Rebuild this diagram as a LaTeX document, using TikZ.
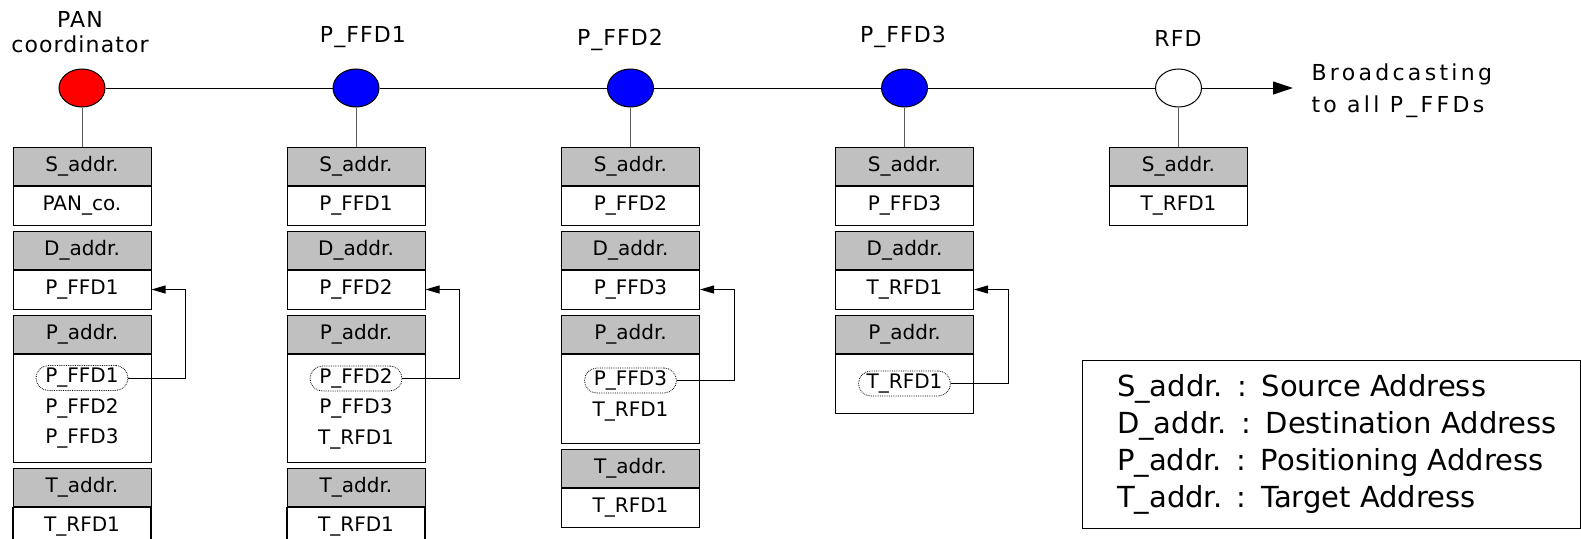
\documentclass[tikz,border=0pt]{standalone}
\usepackage{fontspec}
\setmainfont{DejaVu Sans}
\newfontfamily\lblfont[LetterSpace=5]{DejaVu Sans}
\newfontfamily\bcastfont[LetterSpace=15]{DejaVu Sans}
\usetikzlibrary{arrows.meta, positioning, shapes.geometric}
\definecolor{hdrgray}{RGB}{192,192,192}
\definecolor{stemgray}{RGB}{90,90,90}

\begin{document}
\begin{tikzpicture}[x=1pt, y=-1pt, line width=1pt,
        dev/.style={ellipse, draw=black, minimum width=46pt, minimum height=38pt, inner sep=0pt},
        hdr/.style={draw=black, fill=hdrgray, minimum width=138pt, minimum height=38pt, inner sep=0pt, font=\fontsize{20}{24}\selectfont},
        val/.style={draw=black, fill=white, minimum width=138pt, minimum height=39pt, inner sep=0pt, font=\fontsize{20}{24}\selectfont},
        tval/.style={val, line width=1.6pt},
        entry/.style={minimum width=92pt, minimum height=25pt, inner sep=0pt, font=\fontsize{20}{24}\selectfont},
        picked/.style={entry, draw=black, densely dotted, line width=0.8pt, rounded corners=12.5pt},
        toplbl/.style={align=center, inner sep=0pt, font=\lblfont\fontsize{22}{24.5}\selectfont},
        link/.style={-{Triangle[length=14pt,width=8pt]}, black},
        stem/.style={stemgray}]
        \useasboundingbox (0,0) rectangle (1581,538);
        \clip (0,0) rectangle (1581,538);

        % Devices
        \node[dev, fill=red] (pan) at (82,88) {};
        \node[dev, fill=blue] (ffd1) at (356,88) {};
        \node[dev, fill=blue] (ffd2) at (630.5,88) {};
        \node[dev, fill=blue] (ffd3) at (904.5,88) {};
        \node[dev, fill=white] (rfd) at (1178.5,88) {};

        \node[toplbl] (panlbl) at (80,32) {PAN\\coordinator};
        \node[toplbl] (ffd1lbl) at (363,37) {P\_FFD1};
        \node[toplbl] (ffd2lbl) at (620,40) {P\_FFD2};
        \node[toplbl] (ffd3lbl) at (903,37) {P\_FFD3};
        \node[toplbl] (rfdlbl) at (1178,38) {RFD};
        \node[align=left, inner sep=0pt, anchor=west, font=\bcastfont\fontsize{22}{32}\selectfont] (bcast) at (1311,91) {Broadcasting\\to all P\_FFDs};

        \draw (pan) -- (ffd1) -- (ffd2) -- (ffd3) -- (rfd);
        \draw[-{Triangle[length=20pt,width=13pt]}, shorten >=18pt] (rfd) -- (rfd -| bcast.west);

        % PAN coordinator frame
        \node[hdr] (pan_sh) at (82,166) {S\_addr.};
        \node[val, below=0pt of pan_sh] (pan_sv) {PAN\_co.};
        \node[hdr, below=5pt of pan_sv] (pan_dh) {D\_addr.};
        \node[val, below=0pt of pan_dh] (pan_dv) {P\_FFD1};
        \node[hdr, below=5pt of pan_dv] (pan_ph) {P\_addr.};
        \node[val, below=0pt of pan_ph, minimum height=108pt] (pan_pv) {};
        \node[picked] (pan_p1) at ([yshift=-24.5pt]pan_pv.north) {P\_FFD1};
        \node[entry, below=4.5pt of pan_p1] (pan_p2) {P\_FFD2};
        \node[entry, below=4.5pt of pan_p2] (pan_p3) {P\_FFD3};
        \node[hdr, below=5pt of pan_pv] (pan_th) {T\_addr.};
        \node[tval, below=0pt of pan_th] (pan_tv) {T\_RFD1};
        \draw[stem] (pan) -- (pan_sh);
        \coordinate (pan_bend) at ([xshift=34pt]pan_pv.east);
        \draw[link] (pan_p1.east) -- (pan_bend |- pan_p1.east) |- (pan_dv.east);

        % P_FFD1 frame
        \node[hdr] (ffd1_sh) at (356,166) {S\_addr.};
        \node[val, below=0pt of ffd1_sh] (ffd1_sv) {P\_FFD1};
        \node[hdr, below=5pt of ffd1_sv] (ffd1_dh) {D\_addr.};
        \node[val, below=0pt of ffd1_dh] (ffd1_dv) {P\_FFD2};
        \node[hdr, below=5pt of ffd1_dv] (ffd1_ph) {P\_addr.};
        \node[val, below=0pt of ffd1_ph, minimum height=108pt] (ffd1_pv) {};
        \node[picked] (ffd1_p1) at ([yshift=-25pt]ffd1_pv.north) {P\_FFD2};
        \node[entry, below=4.5pt of ffd1_p1] (ffd1_p2) {P\_FFD3};
        \node[entry, below=4.5pt of ffd1_p2] (ffd1_p3) {T\_RFD1};
        \node[hdr, below=5pt of ffd1_pv] (ffd1_th) {T\_addr.};
        \node[tval, below=0pt of ffd1_th] (ffd1_tv) {T\_RFD1};
        \draw[stem] (ffd1) -- (ffd1_sh);
        \coordinate (ffd1_bend) at ([xshift=34pt]ffd1_pv.east);
        \draw[link] (ffd1_p1.east) -- (ffd1_bend |- ffd1_p1.east) |- (ffd1_dv.east);

        % P_FFD2 frame
        \node[hdr] (ffd2_sh) at (630.5,166) {S\_addr.};
        \node[val, below=0pt of ffd2_sh] (ffd2_sv) {P\_FFD2};
        \node[hdr, below=5pt of ffd2_sv] (ffd2_dh) {D\_addr.};
        \node[val, below=0pt of ffd2_dh] (ffd2_dv) {P\_FFD3};
        \node[hdr, below=5pt of ffd2_dv] (ffd2_ph) {P\_addr.};
        \node[val, below=0pt of ffd2_ph, minimum height=89pt] (ffd2_pv) {};
        \node[picked] (ffd2_p1) at ([yshift=-27pt]ffd2_pv.north) {P\_FFD3};
        \node[entry, below=5pt of ffd2_p1] (ffd2_p2) {T\_RFD1};
        \node[hdr, below=5pt of ffd2_pv] (ffd2_th) {T\_addr.};
        \node[tval, below=0pt of ffd2_th] (ffd2_tv) {T\_RFD1};
        \draw[stem] (ffd2) -- (ffd2_sh);
        \coordinate (ffd2_bend) at ([xshift=34pt]ffd2_pv.east);
        \draw[link] (ffd2_p1.east) -- (ffd2_bend |- ffd2_p1.east) |- (ffd2_dv.east);

        % P_FFD3 frame
        \node[hdr] (ffd3_sh) at (904.5,166) {S\_addr.};
        \node[val, below=0pt of ffd3_sh] (ffd3_sv) {P\_FFD3};
        \node[hdr, below=5pt of ffd3_sv] (ffd3_dh) {D\_addr.};
        \node[val, below=0pt of ffd3_dh] (ffd3_dv) {T\_RFD1};
        \node[hdr, below=5pt of ffd3_dv] (ffd3_ph) {P\_addr.};
        \node[val, below=0pt of ffd3_ph, minimum height=59pt] (ffd3_pv) {};
        \node[picked] (ffd3_p1) at (ffd3_pv) {T\_RFD1};
        \draw[stem] (ffd3) -- (ffd3_sh);
        \coordinate (ffd3_bend) at ([xshift=34pt]ffd3_pv.east);
        \draw[link] (ffd3_p1.east) -- (ffd3_bend |- ffd3_p1.east) |- (ffd3_dv.east);

        % RFD frame
        \node[hdr] (rfd_sh) at (1178.5,166) {S\_addr.};
        \node[val, below=0pt of rfd_sh] (rfd_sv) {T\_RFD1};
        \draw[stem] (rfd) -- (rfd_sh);

        % Legend
        \node[draw=black, minimum width=498pt, minimum height=168pt] (key) at (1331,444) {};
        \node[anchor=west, align=left, inner sep=0pt, font=\fontsize{29}{37}\selectfont] (keytext) at ([xshift=35pt]key.west)
            {S\_addr.\enspace:\enspace Source Address\\
             D\_addr.\enspace:\enspace Destination Address\\
             P\_addr.\enspace:\enspace Positioning Address\\
             T\_addr.\enspace:\enspace Target Address};
    \end{tikzpicture}
\end{document}
